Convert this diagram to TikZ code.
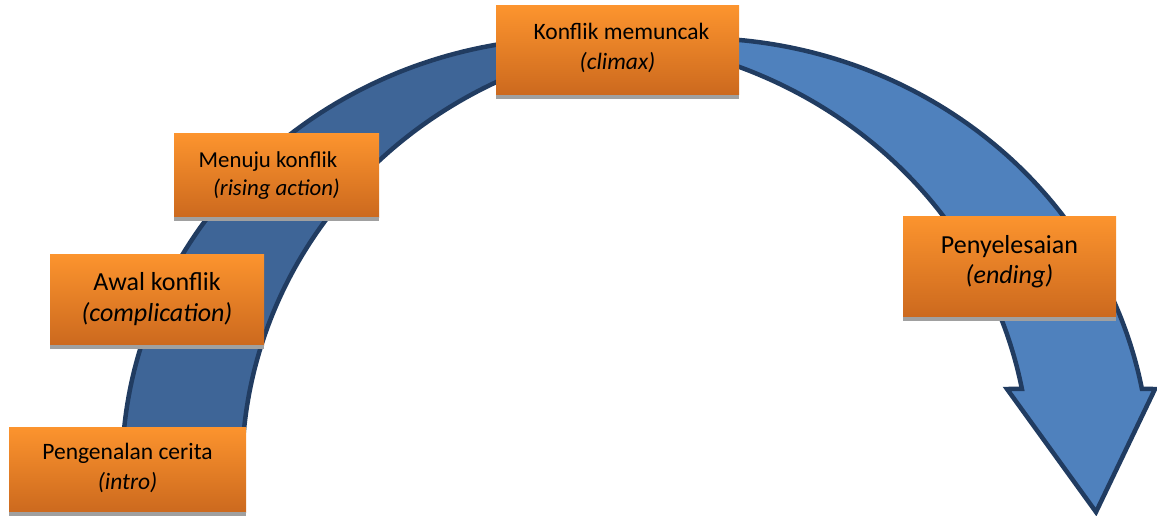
\documentclass[tikz,border=0pt]{standalone}
\usepackage{fontspec}
\setmainfont{Carlito}
\begin{document}
\begin{tikzpicture}[x=1pt,y=-1pt,
  stagebox/.style={rectangle, inner sep=0pt,
    top color=boxtop, bottom color=boxbottom},
  stagetext/.style={inner sep=0pt, align=center, text=black},
  boxshadow/.style={fill=shadowgray},
  arcedge/.style={draw=arcline, line width=4.5pt, line join=miter}
]
\definecolor{boxtop}{RGB}{252,148,46}
\definecolor{boxbottom}{RGB}{204,105,30}
\definecolor{shadowgray}{RGB}{160,160,160}
\definecolor{arcdark}{RGB}{62,101,151}
\definecolor{arclight}{RGB}{79,129,189}
\definecolor{arcline}{RGB}{33,60,97}

\useasboundingbox (0,0) rectangle (1157,516);

% The band is cut from two equal ellipses, the second shifted right:
% inside the left one but outside the right one is the back (left) part,
% inside the right one but outside the left one is the front part.
\def\backband{plot[domain=180:82.41, samples=90, variable=\ang]
      ({576+454*cos(\ang)},{470-432*sin(\ang)})
  -- plot[domain=97.59:180, samples=90, variable=\ang]
      ({696+454*cos(\ang)},{470-432*sin(\ang)})
  -- cycle}
\def\frontband{plot[domain=97.59:10.81, samples=90, variable=\ang]
      ({696+454*cos(\ang)},{470-432*sin(\ang)})
  -- (1155,389) -- (1096,512) -- (1007,389)
  -- plot[domain=10.81:82.41, samples=90, variable=\ang]
      ({576+454*cos(\ang)},{470-432*sin(\ang)})
  -- cycle}

\path[arcedge, fill=arcdark] \backband;
\path[arcedge, fill=arclight] \frontband;

% stage boxes
\node[stagebox, minimum width=237pt, minimum height=85pt]  (intro)   at (127.5,469.5) {};
\node[stagebox, minimum width=214pt, minimum height=91pt]  (awal)    at (157,299.5)   {};
\node[stagebox, minimum width=205pt, minimum height=83pt]  (menuju)  at (276.5,175.5) {};
\node[stagebox, minimum width=243pt, minimum height=89pt]  (klimaks) at (617.5,50.5)  {};
\node[stagebox, minimum width=213pt, minimum height=101pt] (akhir)   at (1009.5,266.5){};

% thin shadows under the boxes
\foreach \b in {intro,awal,menuju,klimaks,akhir}
  \fill[boxshadow] (\b.south west) rectangle ([yshift=-3.5pt]\b.south east);

% stage labels
\node[stagetext, font=\fontsize{23.5}{30}\selectfont] (introtext) at (127.5,467.5)
  {Pengenalan cerita\\\textit{(intro)}};
\node[stagetext, font=\fontsize{26}{31}\selectfont] (awaltext) at (157,299.5)
  {Awal konflik\\\textit{(complication)}};
\node[stagetext, font=\fontsize{22.8}{28}\selectfont] (menujutext) at (276.5,175.5)
  {Menuju konflik\hspace*{17pt}\\\textit{(rising action)}};
\node[stagetext, font=\fontsize{23.5}{30}\selectfont] (klimakstext) at (617.5,47.5)
  {\hspace*{8pt}Konflik memuncak\\\textit{(climax)}};
\node[stagetext, font=\fontsize{26}{30}\selectfont] (akhirtext) at (1009.5,262)
  {Penyelesaian\\\textit{(ending)}};
\end{tikzpicture}
\end{document}
